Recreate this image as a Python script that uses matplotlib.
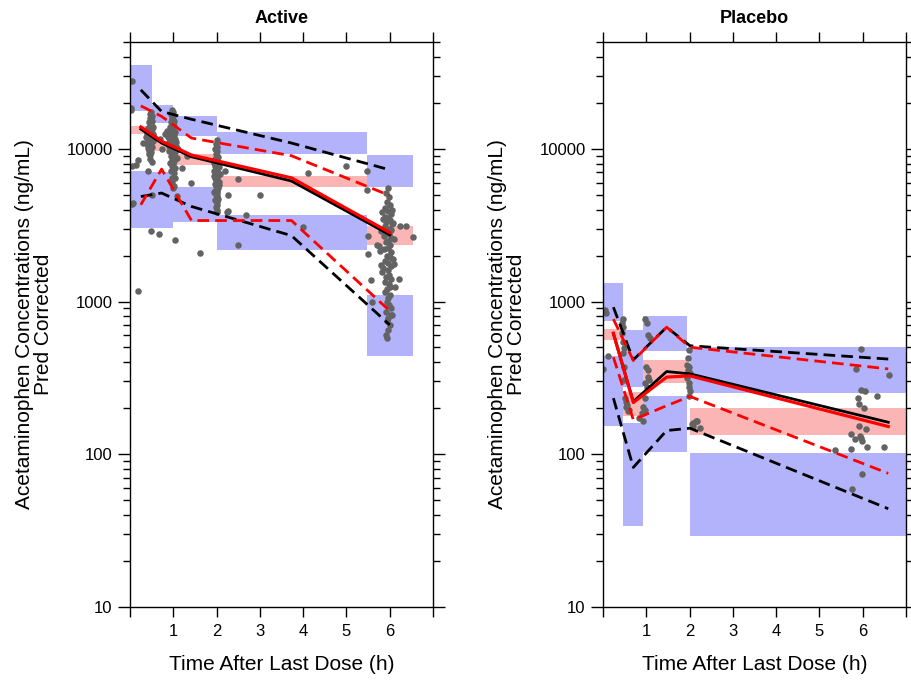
import matplotlib
matplotlib.use("Agg")
import matplotlib.pyplot as plt
from matplotlib.ticker import FixedLocator, LogLocator, NullFormatter

plt.rcParams["font.family"] = ["Liberation Sans", "DejaVu Sans"]

# ---------------- Active arm ----------------
act_bin_lo = [0.0, 0.5, 1.0, 2.0, 5.48]
act_bin_hi = [0.5, 1.0, 2.0, 5.48, 6.54]
act_p95_ci = [(17550, 35100), (14800, 19300), (12200, 16400), (9300, 12860), (5660, 9040)]
act_med_ci = [(12540, 14000), (9740, 11160), (7800, 9200), (5610, 6660), (2350, 3140)]
act_p05_ci = [(3040, 7100), (3040, 7000), (3340, 5660), (2180, 3700), (440, 1110)]

act_line_time = [0.25, 0.73, 1.42, 3.73, 6.0]
act_obs_med = [13450, 10900, 8870, 6150, 2735]
act_sim_med = [13900, 11200, 9100, 6450, 2830]
act_obs_p95 = [24300, 17550, 15600, 10900, 7280]
act_sim_p95 = [19100, 16300, 11750, 9000, 4940]
act_obs_p05 = [4870, 5130, 4190, 2700, 703]
act_sim_p05 = [4300, 7360, 3390, 3390, 869]

# observed, prediction-corrected concentrations (Active)
act_t_early = [0.04, 0.03, 0.02, 0.18, 0.04, 0.15, 0.08, 0.05, 0.18, 0.31, 0.41, 0.36]
act_c_early = [27600, 18500, 18000, 8470, 7740, 7780, 4410, 4370, 1175, 10990, 7100, 11900]

act_t_05 = [0.49, 0.47, 0.50, 0.46, 0.48, 0.51, 0.45, 0.49, 0.47, 0.52, 0.44, 0.50, 0.47, 0.42,
            0.49, 0.46, 0.53, 0.44, 0.48, 0.50, 0.41, 0.47, 0.45, 0.52, 0.43, 0.49, 0.46, 0.40,
            0.48, 0.44, 0.51, 0.42, 0.47, 0.45, 0.49, 0.43, 0.47, 0.39, 0.54, 0.41, 0.37, 0.55,
            0.50, 0.49, 0.68, 0.70, 0.75, 0.80, 0.46, 0.51, 0.44, 0.48]
act_c_05 = [17500, 16900, 16400, 16000, 15600, 15200, 14900, 14500, 14200, 13900, 13700, 13400,
            13200, 13000, 12800, 12600, 12400, 12300, 12100, 11900, 11800, 11600, 11400, 11300,
            11100, 11000, 10800, 10700, 10500, 10400, 10200, 10100, 9900, 9700, 9500, 9300, 9100,
            12500, 11500, 13600, 10900, 12000, 4990, 2900, 2760, 11500, 10000, 12500,
            8600, 8200, 10600, 12900]

act_t_1 = [0.96, 0.99, 0.95, 1.00, 0.97, 0.98, 1.01, 0.94, 0.99, 0.96, 1.02, 0.93, 0.98, 1.00,
           0.95, 1.03, 0.91, 0.97, 1.01, 0.94, 0.99, 0.92, 1.04, 0.96, 1.00, 0.90, 0.98, 1.02,
           0.95, 1.06, 0.93, 0.99, 0.97, 1.01, 0.89, 1.04, 0.96, 1.00, 0.94, 1.08, 0.98, 1.02,
           0.92, 1.00, 0.97, 1.05, 0.99, 1.01, 0.98, 0.88, 1.07, 0.91, 1.10, 0.86, 1.03,
           1.04, 1.00, 1.08, 1.05, 1.19, 1.42, 1.62, 1.31, 0.97, 1.01, 0.95]
act_c_1 = [18000, 17300, 16800, 16300, 15900, 15500, 15200, 14900, 14600, 14300, 14000, 13800,
           13500, 13300, 13100, 12900, 12700, 12500, 12300, 12100, 11900, 11700, 11500, 11400,
           11200, 11000, 10900, 10700, 10600, 10400, 10300, 10100, 10000, 9800, 9700, 9500,
           9300, 9100, 8900, 8700, 8500, 8300, 8100, 7900, 7700, 7500, 7300, 6900, 6450, 12000,
           11100, 10500, 9900, 13000, 8800, 6430, 5530, 4870, 2540, 7470, 5960, 2070, 8900,
           6100, 5700, 7100]

act_t_2 = [2.00, 1.98, 2.01, 1.97, 2.02, 1.99, 2.00, 2.03, 1.96, 2.01, 1.98, 2.04, 2.00, 1.97,
           2.02, 1.99, 2.01, 1.95, 2.03, 2.00, 1.98, 2.02, 1.96, 2.01, 1.99, 2.05, 2.00, 1.97,
           2.02, 1.98, 2.01, 2.04, 1.99, 2.00, 1.96, 2.02, 1.98, 2.01, 2.00, 2.03, 1.97, 2.00,
           2.02, 1.99, 2.01, 2.00, 2.06, 1.94, 2.05, 1.95, 2.07, 1.93,
           2.19, 2.50, 2.27, 3.00, 2.27, 2.67, 2.50, 4.12, 4.00, 5.00, 5.47, 2.23]
act_c_2 = [11400, 10800, 10300, 9900, 9600, 9300, 9000, 8800, 8600, 8400, 8200, 8000, 7800,
           7700, 7500, 7400, 7200, 7100, 6900, 6800, 6700, 6500, 6400, 6300, 6200, 6100, 6000,
           5900, 5800, 5700, 5600, 5500, 5400, 5300, 5200, 5100, 5000, 4900, 4800, 4700, 4600,
           4450, 4300, 4150, 4000, 3850, 7600, 6600, 5750, 8100, 6850, 5250,
           7100, 6360, 4990, 4990, 3890, 3700, 2350, 6930, 3070, 7740, 7100, 3830]

act_t_6 = [5.96, 5.92, 5.99, 5.94, 6.01, 5.90, 5.97, 6.03, 5.88, 5.95, 6.00, 5.92, 6.05, 5.89,
           5.98, 6.02, 5.93, 5.99, 5.86, 6.04, 5.95, 5.91, 6.01, 5.97, 5.87, 6.03, 5.94, 6.00,
           5.90, 5.97, 6.02, 5.85, 5.96, 5.99, 5.92, 6.04, 5.88, 5.98, 6.01, 5.94, 5.90, 6.00,
           5.96, 5.93, 5.99, 6.03, 5.91, 6.05, 5.97, 5.94, 6.00, 5.96, 5.92, 5.82, 6.08, 5.80,
           6.10, 5.78, 6.09, 5.83, 6.12, 6.06, 5.75, 6.07, 5.84,
           5.50, 5.70, 5.81, 5.50, 5.56, 5.58, 6.24, 6.37, 6.54, 6.22, 5.93, 6.04, 5.47]
act_c_6 = [5500, 5100, 4800, 4500, 4300, 4100, 3900, 3750, 3600, 3500, 3400, 3300, 3200, 3100,
           3000, 2950, 2850, 2750, 2700, 2600, 2500, 2450, 2350, 2250, 2200, 2100, 2000, 1950,
           1850, 1800, 1700, 1650, 1600, 1500, 1450, 1400, 1350, 1300, 1250, 1200, 1150, 1100,
           1050, 1000, 950, 900, 860, 820, 780, 740, 700, 650, 600, 3850, 3250, 2900, 2550, 2150,
           1750, 1550, 1250, 4000, 2300, 1900, 3450,
           2670, 2330, 1730, 2050, 1390, 1000, 3100, 3100, 2630, 1400, 580, 820, 5390]

# ---------------- Placebo arm ----------------
pla_bin_lo = [0.0, 0.47, 0.93, 2.01]
pla_bin_hi = [0.47, 0.93, 1.95, 7.0]
pla_p95_ci = [(740, 1320), (277, 653), (475, 798), (251, 502)]
pla_med_ci = [(556, 659), (179, 255), (292, 411), (133, 200)]
pla_p05_ci = [(154, 440), (34, 160), (103, 239), (29, 102)]

pla_line_time = [0.24, 0.70, 1.47, 2.01, 6.59]
pla_obs_med = [615, 221, 348, 336, 162]
pla_sim_med = [621, 218, 320, 326, 152]
pla_obs_p95 = [918, 415, 679, 513, 420]
pla_sim_p95 = [767, 411, 679, 502, 362]
pla_obs_p05 = [233, 82, 143, 148, 44]
pla_sim_p05 = [432, 168, 208, 239, 75]

pla_t = [0.04, 0.06, 0.12, 0.01,
         0.47, 0.45, 0.47, 0.45, 0.47, 0.49, 0.47, 0.49, 0.48, 0.51, 0.53, 0.55, 0.57, 0.59, 0.52,
         0.97, 1.01, 1.05, 1.09, 0.99, 1.05, 1.07, 1.01, 0.97, 0.93, 0.97, 0.89, 0.84, 0.93, 1.04, 0.96,
         1.98, 1.96, 1.94, 1.99, 1.97, 2.01, 1.94, 1.99, 1.98, 2.01, 1.98, 2.05, 2.09, 2.15, 2.18, 2.23, 2.09,
         5.95, 5.84, 6.60, 5.97, 6.05, 5.89, 6.34, 6.03, 5.91, 5.91, 6.07, 5.73, 5.93, 5.96, 5.82,
         5.99, 6.09, 5.73, 6.50, 5.36, 5.98, 5.76]
pla_c = [883, 847, 441, 361,
         767, 722, 686, 621, 547, 495, 459, 375, 307, 233, 219, 211, 191, 195, 205,
         767, 722, 605, 576, 375, 320, 307, 277, 233, 205, 195, 186, 172, 164, 357, 292,
         483, 426, 385, 375, 357, 340, 315, 292, 277, 261, 241, 158, 161, 164, 166, 148, 152,
         490, 364, 331, 264, 260, 233, 242, 202, 213, 153, 147, 135, 131, 127, 126,
         123, 111, 108, 111, 106, 74, 59]

BLUE = "#b3b3fb"
PINK = "#fbb5b5"
DOTS = "#636363"


def draw_boxes(ax, lo, hi, ranges, color):
    bottoms = [r[0] for r in ranges]
    heights = [r[1] - r[0] for r in ranges]
    widths = [h - l for l, h in zip(lo, hi)]
    ax.bar(lo, heights, width=widths, bottom=bottoms, align="edge",
           color=color, linewidth=0, zorder=1)


def draw_panel(ax, title, bins, cis, points, lines):
    lo, hi = bins
    p95, med, p05 = cis
    draw_boxes(ax, lo, hi, p95, BLUE)
    draw_boxes(ax, lo, hi, p05, BLUE)
    draw_boxes(ax, lo, hi, med, PINK)

    for tt, cc in points:
        ax.scatter(tt, cc, s=22, color=DOTS, linewidths=0, zorder=2)

    t, obs_med, sim_med, obs_p95, sim_p95, obs_p05, sim_p05 = lines
    dash = dict(lw=2.0, dashes=(4.2, 2.2), zorder=3)
    ax.plot(t, obs_p95, color="black", **dash)
    ax.plot(t, obs_p05, color="black", **dash)
    ax.plot(t, sim_p95, color="red", **dash)
    ax.plot(t, sim_p05, color="red", **dash)
    ax.plot(t, obs_med, color="black", lw=2.0, zorder=4)
    ax.plot(t, sim_med, color="red", lw=2.3, zorder=5)

    ax.set_yscale("log")
    ax.set_xlim(0, 7)
    ax.set_ylim(10, 50000)
    ax.set_xticks(range(8))
    ax.set_xticklabels(["", "1", "2", "3", "4", "5", "6", ""])
    ax.yaxis.set_major_locator(FixedLocator([10, 100, 1000, 10000]))
    ax.set_yticklabels(["10", "100", "1000", "10000"])
    ax.yaxis.set_minor_locator(LogLocator(base=10, subs=range(2, 10)))
    ax.yaxis.set_minor_formatter(NullFormatter())
    ax.tick_params(axis="x", which="major", direction="out", length=7, width=1,
                   top=True, labelsize=12, pad=5)
    ax.tick_params(axis="y", which="major", direction="out", length=8.5, width=1,
                   right=True, labelsize=12, pad=4)
    ax.tick_params(axis="y", which="minor", direction="out", length=4.8, width=1, right=True)
    for sp in ax.spines.values():
        sp.set_linewidth(1.0)

    ax.set_title(title, fontsize=13, fontweight="bold", pad=14)
    ax.set_xlabel("Time After Last Dose (h)", fontsize=15)
    ax.xaxis.set_label_coords(0.5, -0.085)
    ax.set_ylabel("Acetaminophen Concentrations (ng/mL)\nPred Corrected",
                  fontsize=15, linespacing=1.0)
    ax.yaxis.set_label_coords(-0.255, 0.5)


fig = plt.figure(figsize=(9.11, 6.83), dpi=100)
ax1 = fig.add_axes([130 / 911, 76 / 683, 303 / 911, 565 / 683])
ax2 = fig.add_axes([603 / 911, 76 / 683, 303 / 911, 565 / 683])

draw_panel(ax1, "Active",
           (act_bin_lo, act_bin_hi),
           (act_p95_ci, act_med_ci, act_p05_ci),
           [(act_t_early, act_c_early), (act_t_05, act_c_05), (act_t_1, act_c_1),
            (act_t_2, act_c_2), (act_t_6, act_c_6)],
           (act_line_time, act_obs_med, act_sim_med, act_obs_p95, act_sim_p95,
            act_obs_p05, act_sim_p05))

draw_panel(ax2, "Placebo",
           (pla_bin_lo, pla_bin_hi),
           (pla_p95_ci, pla_med_ci, pla_p05_ci),
           [(pla_t, pla_c)],
           (pla_line_time, pla_obs_med, pla_sim_med, pla_obs_p95, pla_sim_p95,
            pla_obs_p05, pla_sim_p05))

fig.savefig("out.png", dpi=100)
